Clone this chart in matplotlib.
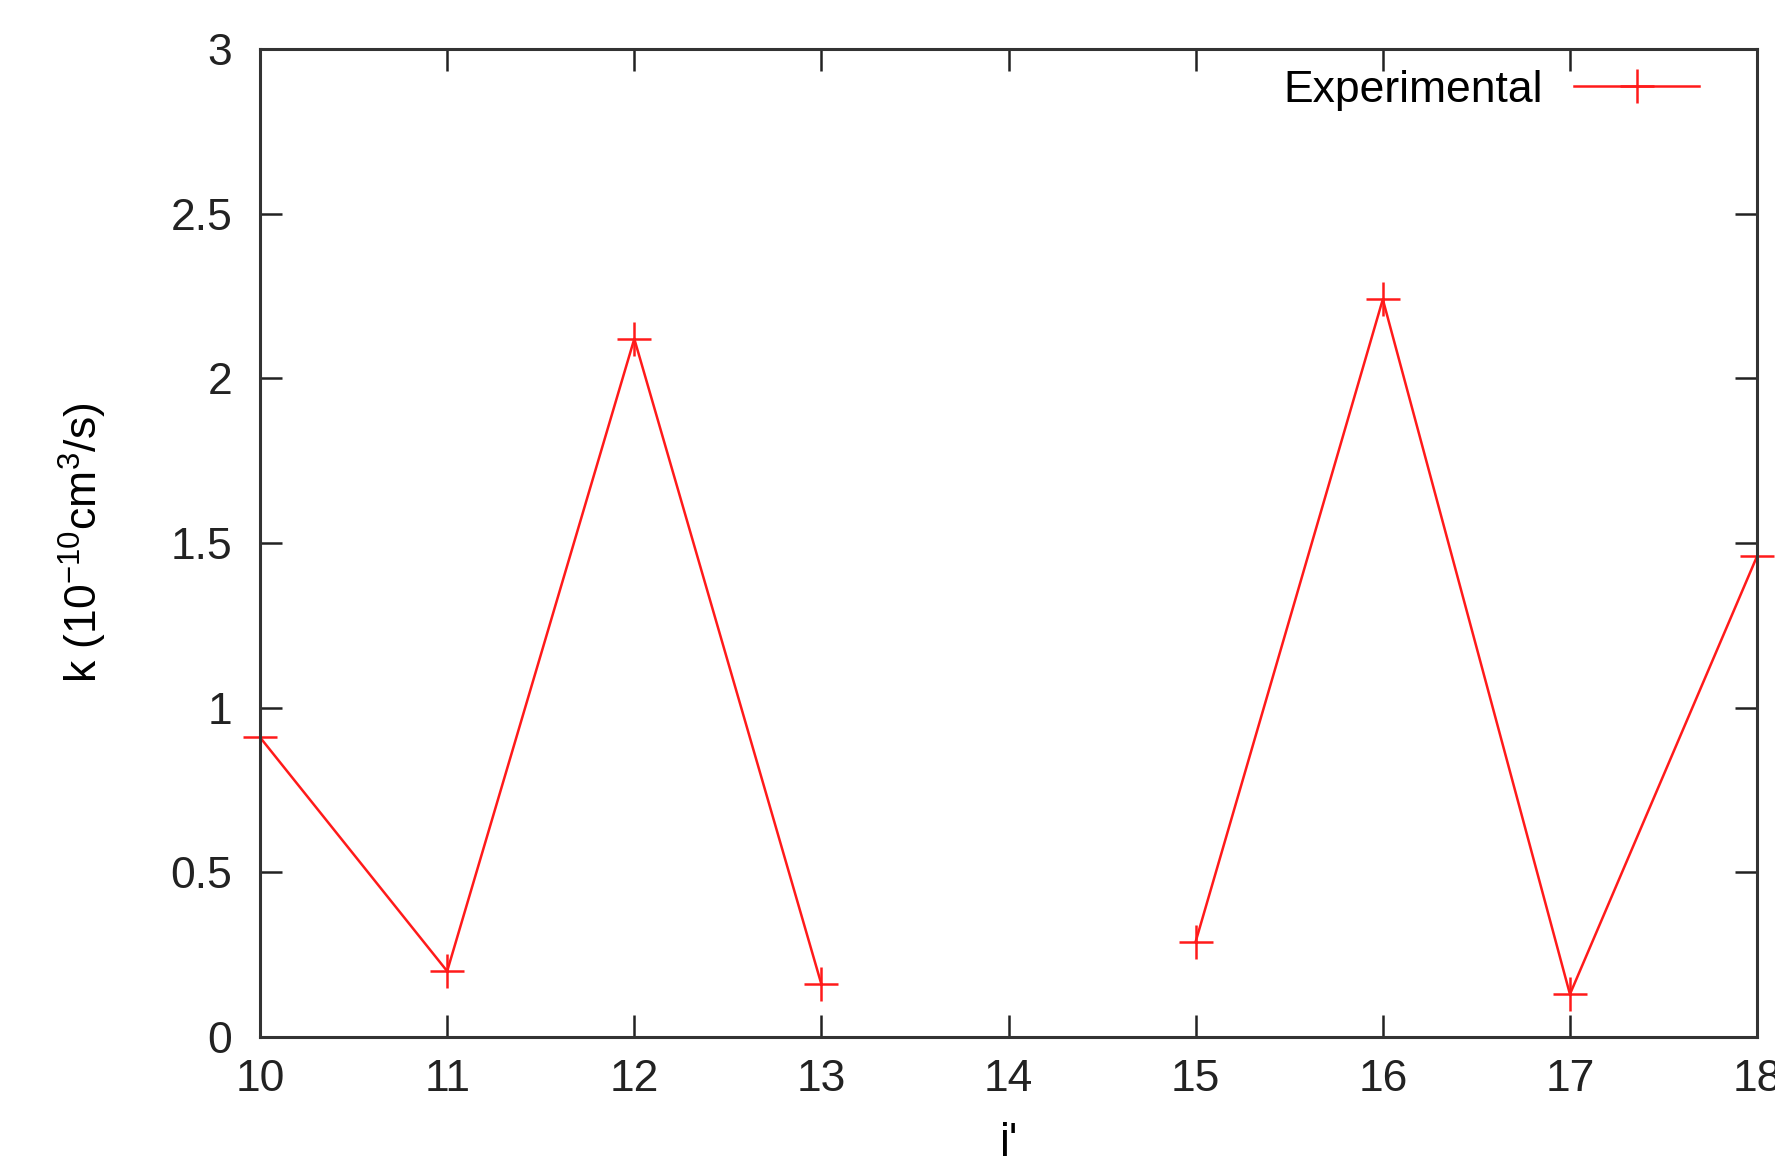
import numpy as np
import matplotlib.pyplot as plt

plt.rcParams['font.family'] = ['Liberation Sans', 'DejaVu Sans']
plt.rcParams['mathtext.fontset'] = 'custom'
plt.rcParams['mathtext.rm'] = 'Liberation Sans'
plt.rcParams['mathtext.it'] = 'Liberation Sans'

# Data (j' = 14 has no value)
j_level = [10, 11, 12, 13, 14, 15, 16, 17, 18]
k_exp = [0.91, 0.20, 2.12, 0.16, np.nan, 0.29, 2.24, 0.13, 1.46]

x_ticks = [10, 11, 12, 13, 14, 15, 16, 17, 18]
y_ticks = [0, 0.5, 1, 1.5, 2, 2.5, 3]
y_ticklabels = ['0', '0.5', '1', '1.5', '2', '2.5', '3']

fig = plt.figure(figsize=(17.75, 11.56), dpi=100)
ax = fig.add_axes([0.1465, 0.1029, 0.8434, 0.8547])

ax.plot(j_level, k_exp, color='#ff1a1a', lw=1.8, marker='+',
        markersize=24, markeredgewidth=1.8, label='Experimental', clip_on=False)

ax.set_xlim(10, 18)
ax.set_ylim(0, 3)
ax.set_xticks(x_ticks)
ax.set_yticks(y_ticks)
ax.set_yticklabels(y_ticklabels)
ax.tick_params(direction='in', length=16, width=1.8, labelsize=32,
               top=True, right=True, colors='#222222')
ax.tick_params(axis='x', pad=16)
ax.tick_params(axis='y', pad=20)
for s in ax.spines.values():
    s.set_linewidth(2.2)
    s.set_color('#333333')

ax.set_xlabel("j'", fontsize=32, labelpad=16)
ax.set_ylabel(r'k (10$^{-10}$cm$^{3}$/s)', fontsize=32, labelpad=44)

ax.legend(loc='upper right', frameon=False, markerfirst=False, fontsize=32,
          handlelength=2.8, handletextpad=0.7, borderaxespad=0.0,
          bbox_to_anchor=(0.973, 0.997))

fig.savefig('out.png', dpi=100)
